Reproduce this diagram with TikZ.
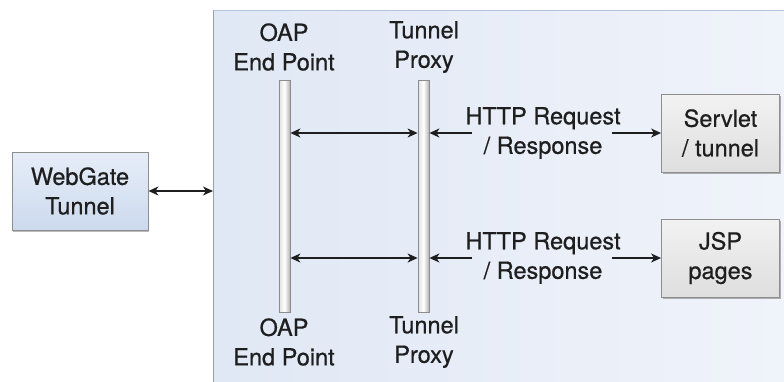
\documentclass[tikz,border=0pt]{standalone}
\usepackage{fontspec}
\setmainfont{TeX Gyre Heros}[FakeBold=0.6]
\usetikzlibrary{arrows.meta,shadows}
\definecolor{panelL}{HTML}{E0E8F5}
\definecolor{panelR}{HTML}{F0F3FA}
\definecolor{panelTop}{HTML}{B5C5DD}
\definecolor{panelLeft}{HTML}{9A9EA6}
\definecolor{boxBorder}{HTML}{8E8E8E}
\definecolor{blueTop}{HTML}{E6EDF8}
\definecolor{blueBot}{HTML}{CCDAEE}
\definecolor{grayTop}{HTML}{F2F2F2}
\definecolor{grayBot}{HTML}{DEDEDE}
\definecolor{ink}{HTML}{1E1E1E}
\begin{document}
\begin{tikzpicture}[x=1pt,y=-1pt,
  every node/.style={font=\fontsize{23.5}{29.5}\selectfont, text=ink},
  lbl/.style={align=center, inner sep=0pt},
  bluebox/.style={draw=boxBorder, line width=0.9pt, top color=blueTop, bottom color=blueBot,
     minimum width=136pt, minimum height=78pt, align=center, inner sep=0pt,
     drop shadow={shadow xshift=1pt, shadow yshift=-1.5pt, fill=black!45, opacity=0.6}},
  graybox/.style={draw=boxBorder, line width=0.9pt, top color=grayTop, bottom color=grayBot,
     minimum width=118pt, minimum height=78pt, align=center, inner sep=0pt,
     drop shadow={shadow xshift=1.5pt, shadow yshift=-1.5pt, fill=black!50, opacity=0.6}},
  bar/.style={draw=black!45, line width=0.8pt, left color=black!12, right color=black!30,
     middle color=white, minimum width=11pt, minimum height=232pt, inner sep=0pt},
  conn/.style={draw=ink, line width=1.3pt, {Stealth[length=10pt,width=9pt,inset=3pt]}-{Stealth[length=10pt,width=9pt,inset=3pt]}},
  conr/.style={draw=ink, line width=1.3pt, -{Stealth[length=10pt,width=9pt,inset=3pt]}}
]
\useasboundingbox (0,0) rectangle (784,381);
% panel
\fill[left color=panelL, right color=panelR] (213,10) rectangle (790,390);
\draw[panelTop, line width=1.5pt] (213,10.5) -- (790,10.5);
\draw[panelLeft, line width=1.5pt] (213.5,10) -- (213.5,390);
\coordinate (pl) at (213,191);

% webgate
\node[bluebox] (web) at (80,191) {WebGate\\Tunnel};
\draw[conn] (web.east |- pl) -- (pl);

% bars
\node[bar] (oap) at (284.5,196) {};
\node[bar] (tp) at (423.5,196) {};

\node[lbl] (oapT) at (284,47) {OAP\\End Point};
\node[lbl] (tpT) at (424,47) {Tunnel\\Proxy};
\node[lbl] (oapB) at (284,342) {OAP\\End Point};
\node[lbl] (tpB) at (424,342) {Tunnel\\Proxy};

% right boxes
\node[graybox] (srv) at (720.5,133) {Servlet\\/ tunnel};
\node[graybox] (jsp) at (720.5,258) {JSP\\pages};

% rows
\coordinate (r1) at (0,133);
\coordinate (r2) at (0,258);
\draw[conn] (oap.east |- r1) -- (tp.west |- r1);
\draw[conn] (oap.east |- r2) -- (tp.west |- r2);

\node[lbl] (h1) at (543,133) {HTTP Request\\/ Response};
\node[lbl] (h2) at (543,258) {HTTP Request\\/ Response};
\coordinate (a1) at (472,133);
\coordinate (b1) at (612,133);
\coordinate (a2) at (472,258);
\coordinate (b2) at (612,258);
\draw[conr] (a1) -- (tp.east |- r1);
\draw[conr] (b1) -- (srv.west);
\draw[conr] (a2) -- (tp.east |- r2);
\draw[conr] (b2) -- (jsp.west);
\end{tikzpicture}
\end{document}
